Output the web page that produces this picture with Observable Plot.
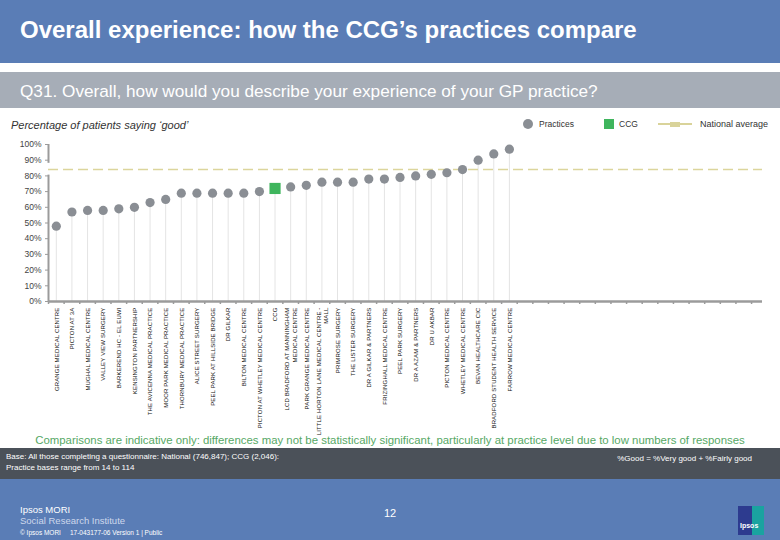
<!DOCTYPE html>
<html><head><meta charset="utf-8">
<script src="https://cdn.jsdelivr.net/npm/d3@7"></script>
<script src="https://cdn.jsdelivr.net/npm/@observablehq/plot@0.6"></script>
<style>
body{margin:0;width:780px;height:540px;position:relative;overflow:hidden;font-family:"Liberation Sans",Arial,sans-serif;background:#fff}
.abs{position:absolute;white-space:nowrap}
#chart{position:absolute;left:0;top:136px}
g[aria-label="text"] text{letter-spacing:0.15px}
</style></head><body>
<div class="abs" style="left:0;top:0;width:780px;height:63px;background:#5a7db6"></div>
<div class="abs" style="left:20px;top:16px;color:#fff;font-size:24px;font-weight:bold">Overall experience: how the CCG’s practices compare</div>
<div class="abs" style="left:0;top:72px;width:780px;height:36px;background:#a6adb7"></div>
<div class="abs" style="left:20px;top:81px;color:#fff;font-size:17.2px">Q31. Overall, how would you describe your experience of your GP practice?</div>
<div class="abs" style="left:11px;top:119px;color:#333;font-size:11px;font-style:italic">Percentage of patients saying ‘good’</div>

<div class="abs" style="left:523px;top:119px;width:10px;height:10px;border-radius:50%;background:#8a8e94"></div>
<div class="abs" style="left:539px;top:119px;color:#333;font-size:8.5px">Practices</div>
<div class="abs" style="left:604px;top:119px;width:10px;height:10px;background:#3fb55d"></div>
<div class="abs" style="left:619px;top:119px;color:#333;font-size:8.5px">CCG</div>
<div class="abs" style="left:658px;top:123px;width:34px;height:2px;background:#d9d39a"></div>
<div class="abs" style="left:670px;top:121.5px;width:10px;height:5px;background:#d9d39a"></div>
<div class="abs" style="left:700px;top:119px;color:#333;font-size:9px">National average</div>

<div id="chart"></div>

<div class="abs" style="left:0;top:434px;width:780px;text-align:center;color:#56a865;font-size:11.4px">Comparisons are indicative only: differences may not be statistically significant, particularly at practice level due to low numbers of responses</div>
<div class="abs" style="left:0;top:448px;width:780px;height:31px;background:#4b5159"></div>
<div class="abs" style="left:6px;top:451px;color:#fff;font-size:8px;line-height:11px">Base: All those completing a questionnaire: National (746,847); CCG (2,046):<br>Practice bases range from 14 to 114</div>
<div class="abs" style="right:28px;top:454px;color:#fff;font-size:8px">%Good = %Very good + %Fairly good</div>
<div class="abs" style="left:0;top:479px;width:780px;height:61px;background:#5a7db6"></div>
<div class="abs" style="left:20px;top:504px;color:#fff;font-size:9.5px">Ipsos MORI</div>
<div class="abs" style="left:20px;top:515px;color:#cdd8ec;font-size:9.5px">Social Research Institute</div>
<div class="abs" style="left:20px;top:529px;color:#fff;font-size:6.5px">© Ipsos MORI &nbsp;&nbsp;&nbsp; 17-043177-06 Version 1 | Public</div>
<div class="abs" style="left:384px;top:507px;color:#fff;font-size:11px">12</div>
<div class="abs" style="left:738px;top:506px;width:26px;height:29px;background:linear-gradient(90deg,#2d3b8f 55%,#1aa3a0 55%)"></div>
<div class="abs" style="left:740px;top:522px;color:#fff;font-size:7px;font-weight:bold">Ipsos</div>

<script>
const categories = [
  "GRANGE MEDICAL CENTRE",
  "PICTON AT 3A",
  "MUGHAL MEDICAL CENTRE",
  "VALLEY VIEW SURGERY",
  "BARKEREND HC - EL EUWI",
  "KENSINGTON PARTNERSHIP",
  "THE AVICENNA MEDICAL PRACTICE",
  "MOOR PARK MEDICAL PRACTICE",
  "THORNBURY MEDICAL PRACTICE",
  "ALICE STREET SURGERY",
  "PEEL PARK AT HILLSIDE BRIDGE",
  "DR GILKAR",
  "BILTON MEDICAL CENTRE",
  "PICTON AT WHETLEY MEDICAL CENTRE",
  "CCG",
  "LCD BRADFORD AT MANNINGHAM\nMEDICAL CENTRE",
  "PARK GRANGE MEDICAL CENTRE",
  "LITTLE HORTON LANE MEDICAL CENTRE -\nMALL",
  "PRIMROSE SURGERY",
  "THE LISTER SURGERY",
  "DR A GILKAR & PARTNERS",
  "FRIZINGHALL MEDICAL CENTRE",
  "PEEL PARK SURGERY",
  "DR A AZAM & PARTNERS",
  "DR U AKBAR",
  "PICTON MEDICAL CENTRE",
  "WHETLEY MEDICAL CENTRE",
  "BEVAN HEALTHCARE CIC",
  "BRADFORD STUDENT HEALTH SERVICE",
  "FARROW MEDICAL CENTRE"
];
const values = [48, 57, 58, 58, 59, 60, 63, 65, 69, 69, 69, 69, 69, 70, 72, 73, 74, 76, 76, 76, 78, 78, 79, 80, 81, 82, 84, 90, 94, 97];
const ccgLabel = "CCG";
const nationalAverage = 84;
const yTicks = [0, 10, 20, 30, 40, 50, 60, 70, 80, 90, 100];

const data = categories.map((name, k) => ({name, value: values[k], i: k + 1, ccg: name === ccgLabel}));
const slots = 46;
const axisColor = "#9b9b9b";

const chart = Plot.plot({
  width: 780, height: 300,
  marginLeft: 48, marginRight: 18, marginTop: 8, marginBottom: 135,
  x: {domain: [0.5, slots + 0.2], axis: null},
  y: {domain: [0, 100], axis: null},
  style: {fontFamily: "Liberation Sans, Arial, sans-serif", background: "transparent", overflow: "visible"},
  marks: [
    Plot.ruleX(data, {x: "i", y1: 0, y2: "value", stroke: "#e4e4e4", strokeWidth: 1}),
    Plot.ruleY([nationalAverage], {stroke: "#dcd59c", strokeWidth: 1.5, strokeDasharray: "10,5"}),
    Plot.ruleX([0.5], {y1: 0, y2: nationalAverage - 3.5, stroke: axisColor, strokeWidth: 2}),
    Plot.ruleX([0.5], {y1: nationalAverage + 4, y2: 100, stroke: axisColor, strokeWidth: 2}),
    Plot.axisY({ticks: yTicks, tickFormat: d => d + "%", label: null, tickSize: 3, tickPadding: 4, stroke: axisColor, fill: "#444", fontSize: 8.5}),
    Plot.ruleY([0], {stroke: axisColor, strokeWidth: 2.5}),
    Plot.axisX({ticks: d3.range(0.5, slots + 0.3, 1), tickFormat: () => "", label: null, tickSize: 3, stroke: axisColor, strokeWidth: 1.5}),
    Plot.dot(data.filter(d => !d.ccg), {x: "i", y: "value", r: 4.6, fill: "#8a8e94"}),
    Plot.dot(data.filter(d => d.ccg), {x: "i", y: "value", symbol: "square", r: 6.3, fill: "#3fb55d"}),
    Plot.text(data, {x: "i", y: 0, text: "name", rotate: -90, textAnchor: "end", dy: 6, fontSize: 6, fill: "#111", lineHeight: 1.2})
  ]
});
document.getElementById("chart").appendChild(chart);
</script>
</body></html>
